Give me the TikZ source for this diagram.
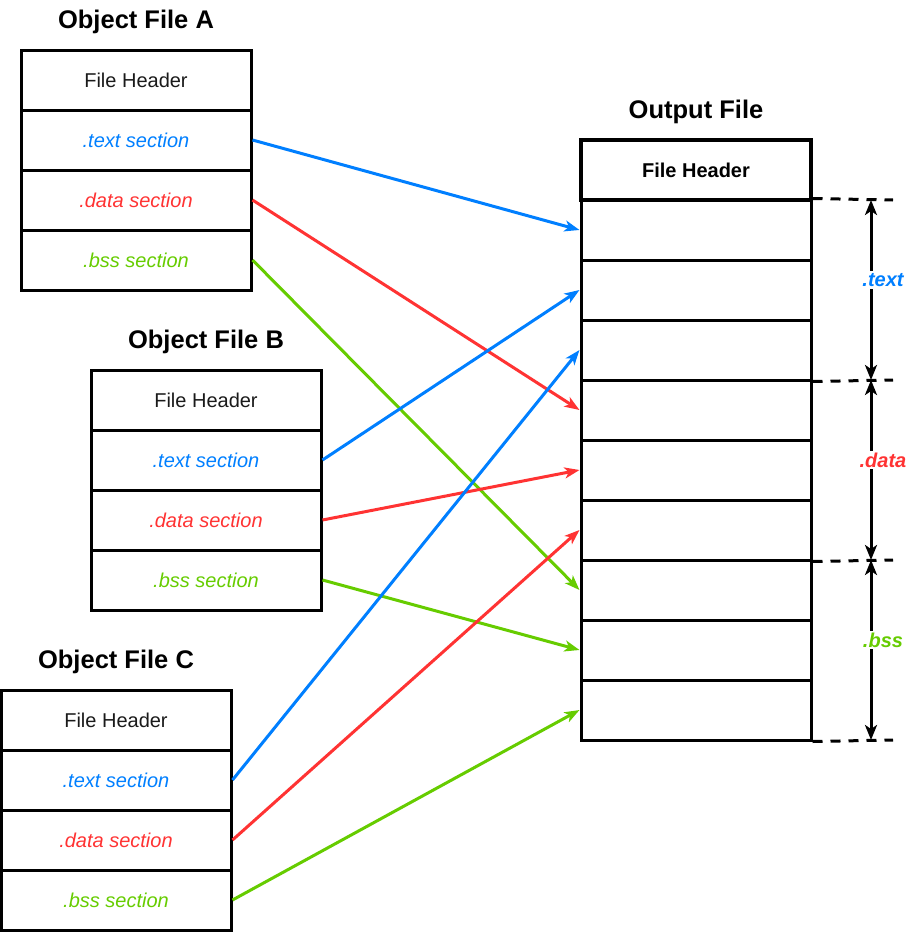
\documentclass[tikz,border=0pt]{standalone}
\usepackage{fontspec}
\setmainfont{Liberation Sans}
\usepackage{xcolor}
\usetikzlibrary{arrows.meta}
\definecolor{textblue}{RGB}{0,127,255}
\definecolor{datared}{RGB}{255,51,51}
\definecolor{bssgreen}{RGB}{102,204,0}
\definecolor{hdrgray}{RGB}{26,26,26}
\begin{document}
\begin{tikzpicture}[x=1pt,y=-1pt,
  sect/.style={draw,rectangle,line width=3pt,minimum width=230pt,minimum height=60pt,inner sep=0pt,
    font=\fontsize{20}{24}\selectfont\itshape},
  hdr/.style={sect,text=hdrgray,font=\fontsize{20}{24}\selectfont},
  title/.style={font=\fontsize{25.5}{30}\selectfont\bfseries},
  link/.style={line width=3pt,-{Stealth[length=15pt,width=11pt,inset=4pt]}},
  dashline/.style={line width=3pt,dash pattern=on 10pt off 8pt},
  dimarrow/.style={line width=3pt,{Stealth[length=15pt,width=12pt,inset=4pt]}-{Stealth[length=15pt,width=12pt,inset=4pt]}},
  dimlabel/.style={fill=white,inner sep=2pt,font=\fontsize{20}{24}\selectfont\bfseries\itshape}]
\useasboundingbox (0,0) rectangle (906,932);
% object file A
\node [title] (ta) at(136,22){Object File A};
\node [hdr] (a0) at(136,80){File Header};
\node [sect,text=textblue] (a1) at(136,140){.text section};
\node [sect,text=datared] (a2) at(136,200){.data section};
\node [sect,text=bssgreen] (a3) at(136,260){.bss section};
% object file B
\node [title] (tb) at(206,342){Object File B};
\node [hdr] (b0) at(206,400){File Header};
\node [sect,text=textblue] (b1) at(206,460){.text section};
\node [sect,text=datared] (b2) at(206,520){.data section};
\node [sect,text=bssgreen] (b3) at(206,580){.bss section};
% object file C
\node [title] (tc) at(116,662){Object File C};
\node [hdr] (c0) at(116,720){File Header};
\node [sect,text=textblue] (c1) at(116,780){.text section};
\node [sect,text=datared] (c2) at(116,840){.data section};
\node [sect,text=bssgreen] (c3) at(116,900){.bss section};
% output file
\node [title] (to) at(696,112){Output File};
\foreach \i in {1,...,9}
  \node [sect] (o\i) at(696,{170+60*\i}){};
\node [sect,line width=4.5pt,font=\fontsize{20}{24}\selectfont\bfseries] (o0) at(696,170){File Header};
% dimension marks
\coordinate (e0) at(893,200);
\coordinate (e1) at(893,380);
\coordinate (e2) at(893,560);
\coordinate (e3) at(893,740);
\coordinate (m0) at(871,200);
\coordinate (m1) at(871,380);
\coordinate (m2) at(871,560);
\coordinate (m3) at(871,740);
\draw [dashline] (o1.north east) -- (e0);
\draw [dashline] (o3.south east) -- (e1);
\draw [dashline] (o6.south east) -- (e2);
\draw [dashline] (o9.south east) -- (e3);
\draw [dimarrow] (m0) -- (m1);
\draw [dimarrow] (m1) -- (m2);
\draw [dimarrow] (m2) -- (m3);
\node [dimlabel,text=textblue] (lt) at(883,280){.text};
\node [dimlabel,text=datared] (ld) at(883,460){.data};
\node [dimlabel,text=bssgreen] (lb) at(883,640){.bss};
% links
\draw [link,textblue] (a1.east) -- (o1.west);
\draw [link,datared] (a2.east) -- (o4.west);
\draw [link,bssgreen] (a3.east) -- (o7.west);
\draw [link,textblue] (b1.east) -- (o2.west);
\draw [link,datared] (b2.east) -- (o5.west);
\draw [link,bssgreen] (b3.east) -- (o8.west);
\draw [link,textblue] (c1.east) -- (o3.west);
\draw [link,datared] (c2.east) -- (o6.west);
\draw [link,bssgreen] (c3.east) -- (o9.west);
\end{tikzpicture}
\end{document}
